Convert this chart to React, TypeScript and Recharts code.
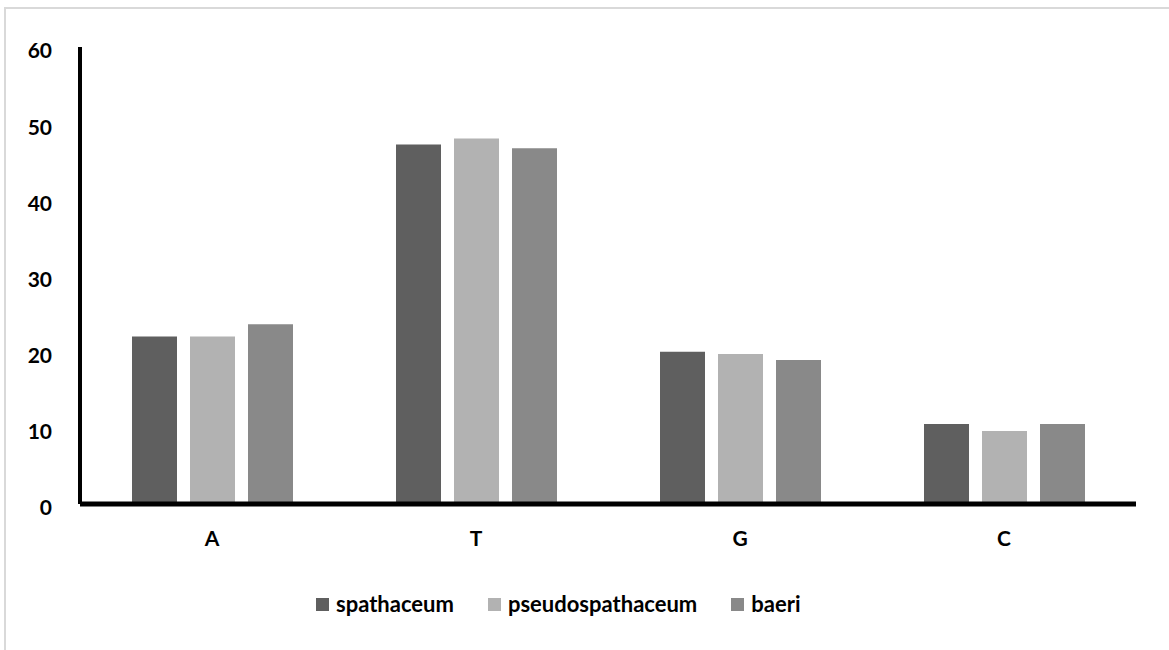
import { BarChart, Bar, XAxis, YAxis, Legend } from 'recharts';

const categories = ['A', 'T', 'G', 'C'];
const spathaceum = [22.0, 47.2, 20.0, 10.5];
const pseudospathaceum = [22.0, 48.0, 19.7, 9.6];
const baeri = [23.6, 46.7, 18.9, 10.5];
const yTicks = [0, 10, 20, 30, 40, 50, 60];

const seriesColors: { [key: string]: string } = {
  spathaceum: '#5f5f5f',
  pseudospathaceum: '#b2b2b2',
  baeri: '#898989',
};

const data = categories.map((name, i) => ({
  name,
  spathaceum: spathaceum[i],
  pseudospathaceum: pseudospathaceum[i],
  baeri: baeri[i],
}));

const font = 'Lato, "Open Sans", sans-serif';

function renderLegend() {
  return (
    <div style={{ display: 'flex', alignItems: 'center', paddingLeft: 316, fontFamily: font, height: 26 }}>
      {Object.keys(seriesColors).map((key) => (
        <div key={key} style={{ display: 'flex', alignItems: 'center', marginRight: 34 }}>
          <span style={{ width: 13, height: 13, background: seriesColors[key], marginRight: 7, display: 'inline-block' }} />
          <span style={{ fontSize: 22, fontWeight: 700, color: '#000', lineHeight: '26px' }}>{key}</span>
        </div>
      ))}
    </div>
  );
}

export default function App() {
  return (
    <div style={{ position: 'absolute', left: 0, top: 0, width: 1169, height: 650, background: '#fff' }}>
      <div
        style={{
          position: 'absolute',
          left: 4,
          top: 7,
          right: 0,
          bottom: 0,
          borderTop: '2px solid #d9d9d9',
          borderLeft: '2px solid #d9d9d9',
        }}
      />
      <div style={{ position: 'absolute', left: 0, top: 0 }}>
        <BarChart
          width={1169}
          height={650}
          data={data}
          margin={{ top: 47, right: 33, left: 0, bottom: 0 }}
          barSize={45}
          barGap={13}
        >
          <XAxis
            dataKey="name"
            height={120}
            axisLine={{ stroke: '#000', strokeWidth: 5 }}
            tickLine={false}
            tickSize={0}
            tickMargin={27}
            tick={{ fill: '#000', fontSize: 21, fontWeight: 700, fontFamily: font }}
          />
          <YAxis
            width={80}
            domain={[0, 60]}
            ticks={yTicks}
            interval={0}
            axisLine={{ stroke: '#000', strokeWidth: 4 }}
            tickLine={false}
            tickSize={0}
            tickMargin={28}
            tick={{ fill: '#000', fontSize: 21, fontWeight: 700, fontFamily: font, dy: 4 }}
          />
          <Legend content={renderLegend} wrapperStyle={{ top: 591, left: 0, width: 1169 }} />
          <Bar dataKey="spathaceum" fill={seriesColors.spathaceum} isAnimationActive={false} />
          <Bar dataKey="pseudospathaceum" fill={seriesColors.pseudospathaceum} isAnimationActive={false} />
          <Bar dataKey="baeri" fill={seriesColors.baeri} isAnimationActive={false} />
        </BarChart>
      </div>
    </div>
  );
}
